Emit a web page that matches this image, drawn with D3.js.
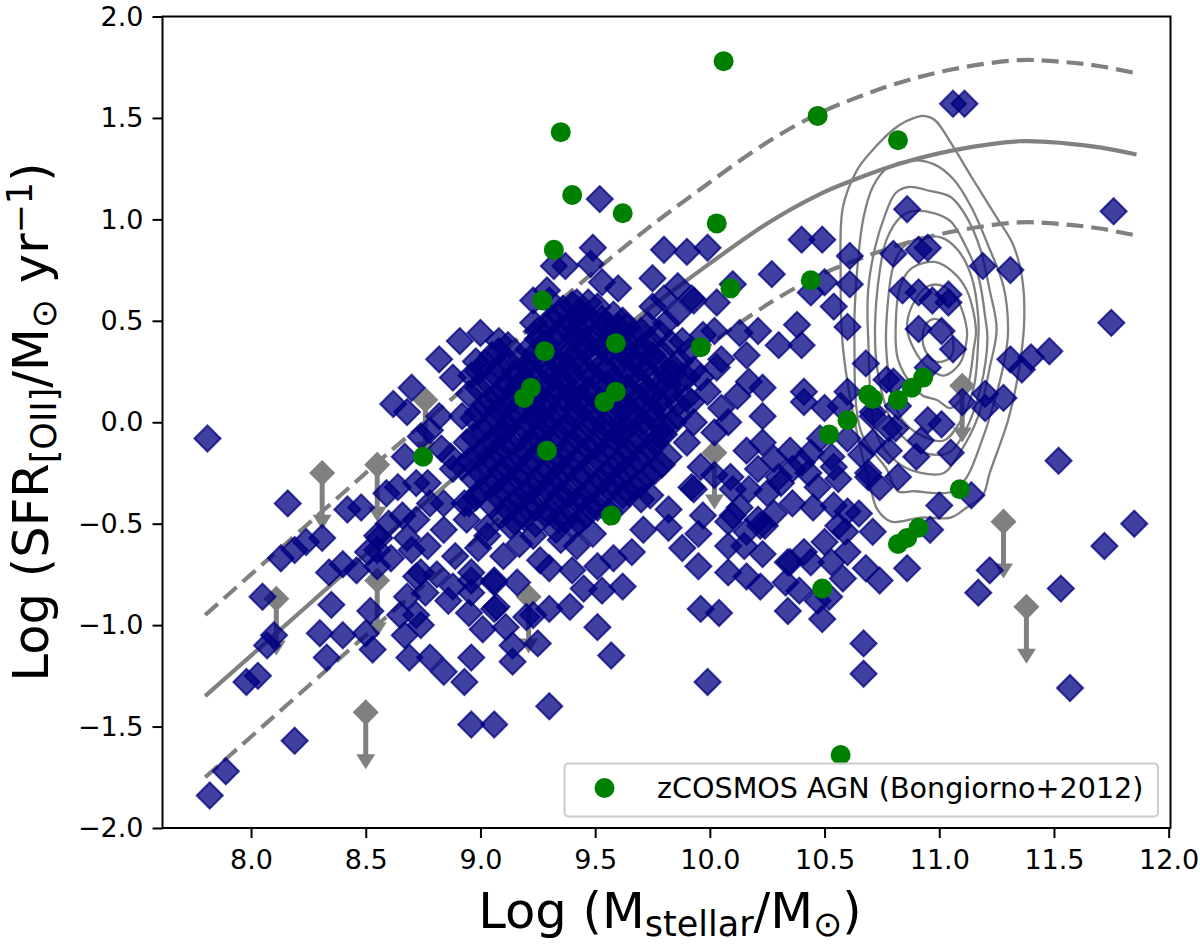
<!DOCTYPE html>
<html>
<head>
<meta charset="utf-8">
<script src="https://cdn.jsdelivr.net/npm/d3@7"></script>
<style>
  html, body { margin: 0; padding: 0; background: white; }
  svg { display: block; }
  text { font-family: "DejaVu Sans", sans-serif; fill: black; }
</style>
</head>
<body>
<div id="chart"></div>
<script>
let width = 1200
let height = 945
let margin = { top: 16.5, left: 162.5, right: 29.5, bottom: 117 }

let xTicks = [8.0, 8.5, 9.0, 9.5, 10.0, 10.5, 11.0, 11.5, 12.0]
let yTicks = [-2.0, -1.5, -1.0, -0.5, 0.0, 0.5, 1.0, 1.5, 2.0]

// main sequence line and its two dashed offsets
let lineMass = [7.8, 8.0, 8.15, 8.3, 8.45, 8.6, 8.9, 9.15, 9.4, 9.7, 9.9, 10.25, 10.48, 10.64, 10.83, 11.06, 11.35, 11.55, 11.7, 11.86]
let lineMid = [-1.35, -1.15, -1.0, -0.85, -0.70, -0.55, -0.26, 0.0, 0.25, 0.53, 0.70, 0.98, 1.125, 1.2, 1.275, 1.34, 1.385, 1.375, 1.355, 1.32]
let lineUpper = [-0.95, -0.75, -0.60, -0.45, -0.30, -0.15, 0.14, 0.40, 0.65, 0.93, 1.10, 1.38, 1.525, 1.60, 1.675, 1.74, 1.785, 1.775, 1.755, 1.72]
let lineLower = [-1.75, -1.55, -1.40, -1.25, -1.10, -0.95, -0.66, -0.40, -0.15, 0.13, 0.30, 0.58, 0.725, 0.80, 0.875, 0.94, 0.985, 0.975, 0.955, 0.92]

// density contours, outer to inner
let contours = [
  [[10.93,1.51],[10.98,1.49],[11.06,1.36],[11.14,1.21],[11.25,1.01],[11.32,0.88],[11.36,0.72],[11.37,0.49],[11.34,0.21],[11.30,0.01],[11.22,-0.25],[11.19,-0.36],[11.12,-0.42],[11.05,-0.47],[10.92,-0.47],[10.79,-0.49],[10.73,-0.43],[10.70,-0.32],[10.63,0.01],[10.58,0.37],[10.57,0.74],[10.58,1.06],[10.64,1.24],[10.70,1.33],[10.82,1.46],[10.89,1.50]],
  [[10.88,1.29],[10.98,1.27],[11.06,1.20],[11.14,1.06],[11.21,0.88],[11.28,0.67],[11.30,0.46],[11.29,0.34],[11.24,0.10],[11.17,-0.14],[11.12,-0.27],[11.06,-0.34],[10.99,-0.35],[10.89,-0.34],[10.82,-0.34],[10.77,-0.23],[10.66,-0.05],[10.63,0.42],[10.64,0.72],[10.67,1.01],[10.71,1.16],[10.77,1.25]],
  [[10.87,1.16],[10.96,1.14],[11.05,1.11],[11.12,1.01],[11.18,0.85],[11.22,0.65],[11.25,0.46],[11.22,0.27],[11.17,0.03],[11.09,-0.15],[11.02,-0.25],[10.92,-0.25],[10.82,-0.20],[10.73,-0.07],[10.69,0.42],[10.69,0.65],[10.72,0.86],[10.76,1.01],[10.81,1.13]],
  [[10.88,1.04],[10.98,1.03],[11.05,0.99],[11.11,0.88],[11.17,0.72],[11.20,0.52],[11.21,0.41],[11.18,0.17],[11.11,-0.05],[11.04,-0.15],[10.93,-0.15],[10.84,-0.07],[10.79,0.01],[10.73,0.26],[10.72,0.47],[10.74,0.74],[10.77,0.90],[10.83,1.01]],
  [[10.92,0.91],[11.01,0.91],[11.08,0.85],[11.14,0.72],[11.17,0.52],[11.17,0.41],[11.15,0.17],[11.09,0.00],[11.02,-0.09],[10.93,-0.07],[10.84,0.01],[10.80,0.11],[10.77,0.34],[10.77,0.50],[10.80,0.77],[10.84,0.86]],
  [[10.98,0.79],[11.06,0.74],[11.12,0.65],[11.16,0.46],[11.15,0.36],[11.12,0.17],[11.05,0.07],[10.99,0.11],[10.93,0.13],[10.89,0.17],[10.82,0.31],[10.81,0.47],[10.83,0.67],[10.88,0.76]],
  [[10.95,0.67],[11.02,0.67],[11.08,0.60],[11.12,0.46],[11.12,0.41],[11.09,0.29],[11.02,0.23],[10.95,0.27],[10.89,0.36],[10.86,0.46],[10.88,0.57]],
  [[10.98,0.51],[11.04,0.47],[11.06,0.41],[11.05,0.32],[10.98,0.30],[10.93,0.38],[10.94,0.48]]
]

// upper limits, drawn as grey diamonds with a down arrow
let limits = [[8.31,-0.25],[8.55,-0.21],[8.76,0.11],[8.11,-0.87],[8.55,-0.78],[8.50,-1.43],[9.21,-0.86],[10.02,-0.15],[11.10,0.18],[11.28,-0.49],[11.38,-0.91]]
let limitDrop = 0.28

let lowMass = [
  [7.81,-0.08],[8.16,-0.40],[8.13,-0.67],[8.19,-0.63],[8.24,-0.59],[8.31,-0.57],[8.42,-0.43],[8.48,-0.42],[8.34,-0.74],[8.40,-0.70],
  [8.46,-0.73],[8.55,-0.63],[8.51,-0.64],[8.61,-0.67],[8.66,-0.46],[8.59,-0.35],[8.64,-0.32],[8.67,-0.17],[8.74,-0.07],[8.78,-0.04],
  [8.82,0.03],[8.62,0.09],[8.68,0.05],[8.70,0.17],[8.82,0.31],[8.91,0.40],[8.98,0.30],[8.88,0.22],[8.92,0.03],[8.87,-0.17],
  [8.88,-0.23],[8.78,-0.40],[8.77,-0.30],[8.72,-0.48],[8.55,-0.56],[8.77,-0.61],[8.84,-0.53],[8.94,-0.48],[8.74,-0.74],[8.81,-0.75],
  [8.96,-0.74],[8.05,-0.86],[8.10,-1.05],[8.07,-1.10],[7.98,-1.28],[8.03,-1.25],[7.89,-1.72],[7.82,-1.84],[8.19,-1.57],[8.35,-0.90],
  [8.52,-0.93],[8.30,-1.04],[8.40,-1.05],[8.50,-1.04],[8.33,-1.16],[8.53,-1.12],[8.65,-0.95],[8.72,-0.76],[8.68,-0.86],[8.72,-0.95],
  [8.74,-1.00],[8.67,-1.05],[8.69,-1.16],[8.78,-1.16],[8.84,-1.23],[8.93,-1.28],[8.96,-1.16],[8.96,-1.49],[9.06,-1.49],[8.68,-0.57],
  [8.56,-0.57],[8.55,-0.71],[8.76,-0.84],[8.86,-0.88],[8.95,-0.94],[8.88,-0.81],[8.96,-0.78],[8.96,-0.84],[9.06,-0.78],[9.01,-1.02],
  [9.06,-0.92],[9.07,-0.91],[9.11,-1.01],[9.14,-1.10],[9.14,-1.18],[9.25,-1.09],[9.20,-0.96],[9.23,-0.95],[9.30,-0.92],[9.39,-0.91],
  [9.30,-1.40],[9.51,-1.01],[9.57,-1.15],[9.16,-0.79],[9.06,-0.79],[9.45,-0.82],[9.53,-0.83],[9.62,-0.81],[9.51,-0.71],[9.58,-0.67],
  [9.66,-0.64],[9.42,-0.61],[9.49,-0.55],[9.71,-0.53],[9.23,-0.56],[9.35,-0.58],[9.40,-0.73],[9.26,-0.68],[8.99,-0.62],[9.10,-0.66],
  [9.03,-0.56],[9.17,-0.60],[9.30,-0.72],[8.89,-0.66],[8.60,-0.50],[8.72,-0.30],[8.83,-0.13],[8.93,-0.40],[8.84,-0.40],[8.70,-0.63]
]

let core = [
  [9.36,0.56],[9.44,0.54],[9.51,0.57],[9.58,0.53],[9.31,0.51],[9.39,0.49],[9.47,0.52],[9.55,0.48],[9.62,0.50],
  [9.34,0.44],[9.42,0.46],[9.50,0.43],[9.57,0.45],[9.66,0.42],[9.78,0.44],[9.88,0.40],
  [9.12,0.38],[9.28,0.39],[9.37,0.36],[9.45,0.40],[9.53,0.37],[9.61,0.39],[9.70,0.36],[9.83,0.39],[9.91,0.35],
  [9.05,0.33],[9.18,0.31],[9.24,0.34],[9.33,0.30],[9.41,0.33],[9.49,0.31],[9.58,0.34],[9.67,0.30],[9.75,0.33],[9.87,0.30],
  [8.99,0.25],[9.09,0.27],[9.15,0.24],[9.22,0.28],[9.30,0.25],[9.38,0.27],[9.46,0.24],[9.55,0.26],[9.63,0.25],[9.72,0.27],[9.81,0.24],[9.93,0.26],
  [9.03,0.20],[9.12,0.18],[9.19,0.21],[9.27,0.19],[9.35,0.21],[9.43,0.18],[9.52,0.20],[9.60,0.19],[9.69,0.21],[9.78,0.18],[9.87,0.20],
  [8.95,0.14],[9.07,0.13],[9.15,0.15],[9.24,0.12],[9.32,0.14],[9.40,0.13],[9.48,0.15],[9.57,0.12],[9.65,0.14],[9.74,0.13],[9.83,0.15],[9.90,0.12],
  [9.02,0.08],[9.10,0.07],[9.18,0.09],[9.28,0.06],[9.36,0.08],[9.45,0.07],[9.53,0.09],[9.62,0.06],[9.70,0.08],[9.79,0.07],
  [8.97,0.02],[9.06,0.03],[9.14,0.01],[9.23,0.03],[9.31,0.01],[9.41,0.02],[9.49,0.00],[9.58,0.03],[9.66,0.01],[9.75,0.02],[9.84,0.00],
  [9.01,-0.04],[9.10,-0.05],[9.19,-0.03],[9.27,-0.05],[9.36,-0.03],[9.44,-0.06],[9.54,-0.04],[9.62,-0.05],[9.71,-0.03],[9.80,-0.06],
  [8.94,-0.10],[9.05,-0.09],[9.13,-0.11],[9.22,-0.09],[9.32,-0.11],[9.40,-0.10],[9.50,-0.12],[9.59,-0.09],[9.67,-0.11],[9.76,-0.10],
  [8.99,-0.16],[9.08,-0.15],[9.17,-0.17],[9.26,-0.15],[9.35,-0.18],[9.45,-0.16],[9.54,-0.15],[9.63,-0.17],[9.72,-0.15],[9.82,-0.17],
  [8.92,-0.22],[9.03,-0.21],[9.12,-0.23],[9.21,-0.21],[9.30,-0.24],[9.39,-0.22],[9.48,-0.21],[9.57,-0.23],[9.66,-0.22],[9.76,-0.24],
  [8.97,-0.28],[9.07,-0.29],[9.16,-0.27],[9.25,-0.30],[9.34,-0.28],[9.43,-0.27],[9.53,-0.29],[9.61,-0.28],[9.70,-0.30],
  [9.00,-0.34],[9.10,-0.33],[9.20,-0.35],[9.29,-0.33],[9.38,-0.36],[9.47,-0.34],[9.56,-0.33],[9.65,-0.35],[9.74,-0.36],
  [8.95,-0.40],[9.05,-0.41],[9.15,-0.39],[9.24,-0.42],[9.33,-0.40],[9.42,-0.39],[9.51,-0.42],[9.60,-0.41],
  [9.09,-0.46],[9.19,-0.47],[9.28,-0.45],[9.37,-0.48],[9.46,-0.46],[9.03,-0.52],[9.13,-0.51],[9.33,-0.53],[9.41,-0.51],
  [9.49,0.86],[9.32,0.77],[9.37,0.77],[9.48,0.78],[9.53,0.69],[9.60,0.66],[9.29,0.65],[9.23,0.60],[9.30,0.60],[9.23,0.49],
  [9.25,0.45],[9.42,0.59],[9.80,0.85],[9.90,0.84],[9.99,0.86],[9.52,1.10],[9.75,0.71],[9.86,0.67],[9.92,0.61],[9.75,0.57],
  [9.86,0.54],[9.73,0.48],[9.81,0.49],[9.64,0.47],[9.80,0.61],[9.00,0.44],[9.08,0.40]
]

// second, overlapping layer: the centre of the cloud reads as solid navy
let coreDense = [
  [9.40,0.58],[9.47,0.59],[9.34,0.53],[9.42,0.52],[9.53,0.51],[9.29,0.47],[9.38,0.46],[9.46,0.48],[9.54,0.46],[9.60,0.47],[9.70,0.45],
  [9.25,0.41],[9.33,0.40],[9.41,0.42],[9.49,0.39],[9.57,0.41],[9.65,0.38],[9.74,0.40],
  [9.08,0.35],[9.21,0.36],[9.30,0.34],[9.38,0.33],[9.46,0.36],[9.55,0.35],[9.63,0.33],[9.72,0.36],[9.79,0.34],
  [9.02,0.29],[9.12,0.30],[9.20,0.28],[9.27,0.30],[9.35,0.28],[9.44,0.29],[9.52,0.27],[9.61,0.30],[9.69,0.28],[9.78,0.29],[9.84,0.27],
  [8.96,0.23],[9.06,0.24],[9.16,0.22],[9.24,0.23],[9.32,0.22],[9.40,0.24],[9.49,0.23],[9.58,0.21],[9.66,0.23],[9.75,0.22],[9.84,0.24],[9.90,0.22],
  [8.99,0.17],[9.09,0.16],[9.17,0.18],[9.23,0.16],[9.31,0.18],[9.39,0.17],[9.47,0.16],[9.56,0.18],[9.64,0.17],[9.73,0.16],[9.82,0.18],
  [9.04,0.11],[9.13,0.10],[9.21,0.12],[9.29,0.10],[9.37,0.11],[9.44,0.12],[9.52,0.10],[9.61,0.11],[9.69,0.12],[9.78,0.10],[9.86,0.09],
  [8.99,0.05],[9.08,0.06],[9.16,0.04],[9.25,0.05],[9.33,0.04],[9.41,0.06],[9.49,0.05],[9.58,0.07],[9.66,0.05],[9.75,0.06],
  [9.04,-0.01],[9.12,-0.02],[9.21,0.00],[9.29,-0.01],[9.38,-0.02],[9.46,0.00],[9.54,-0.01],[9.62,-0.01],[9.71,0.00],[9.80,-0.02],
  [8.97,-0.07],[9.08,-0.06],[9.17,-0.08],[9.25,-0.07],[9.34,-0.06],[9.42,-0.08],[9.52,-0.07],[9.60,-0.06],[9.69,-0.08],[9.78,-0.07],
  [9.02,-0.13],[9.10,-0.12],[9.19,-0.14],[9.28,-0.12],[9.37,-0.14],[9.47,-0.13],[9.56,-0.12],[9.64,-0.14],[9.74,-0.13],
  [8.95,-0.19],[9.05,-0.18],[9.14,-0.20],[9.23,-0.18],[9.33,-0.20],[9.42,-0.19],[9.51,-0.18],[9.60,-0.20],[9.69,-0.19],[9.79,-0.21],
  [9.00,-0.25],[9.09,-0.24],[9.18,-0.26],[9.27,-0.25],[9.36,-0.24],[9.45,-0.26],[9.55,-0.25],[9.63,-0.24],[9.73,-0.26],
  [9.04,-0.31],[9.13,-0.30],[9.22,-0.32],[9.31,-0.30],[9.40,-0.32],[9.50,-0.31],[9.58,-0.30],[9.67,-0.32],
  [8.98,-0.37],[9.07,-0.36],[9.17,-0.38],[9.26,-0.37],[9.35,-0.36],[9.44,-0.38],[9.53,-0.37],[9.62,-0.36],[9.70,-0.38],
  [9.12,-0.43],[9.21,-0.42],[9.30,-0.44],[9.39,-0.43],[9.48,-0.42],[9.56,-0.44],[9.15,-0.49],[9.24,-0.50],[9.34,-0.48],[9.43,-0.49]
]

let midMass = [
  [9.82,-0.43],[9.82,-0.52],[9.88,-0.62],[9.95,-0.71],[9.95,-0.55],[9.97,-0.46],[10.08,-0.74],[10.16,-0.76],[10.22,-0.81],[10.08,-0.61],
  [10.15,-0.61],[10.23,-0.65],[10.22,-0.51],[10.16,-0.54],[10.10,-0.46],[10.08,-0.49],[9.96,-0.92],[10.04,-0.94],[9.99,-1.28],[10.34,-0.93],
  [10.33,-0.79],[10.34,-0.69],[10.09,-0.27],[9.92,-0.32],[10.24,-0.51],[10.21,-0.48],[10.13,-0.42],[9.96,-0.22],[9.93,-0.33],[10.21,-0.23],
  [10.17,-0.33],[10.25,-0.35],[10.31,-0.30],[10.36,-0.40],[10.45,-0.42],[10.54,-0.41],[10.60,-0.44],[10.47,-0.32],[10.56,-0.28],[10.54,-0.22],
  [10.43,-0.25],[10.35,-0.14],[10.44,-0.15],[10.28,-0.18],[10.23,-0.10],[10.36,-0.23],[10.53,-0.17],[10.66,-0.16],[10.74,-0.32],[10.69,-0.25],
  [10.71,-0.54],[10.56,-0.51],[10.59,-0.54],[10.50,-0.59],[10.60,-0.64],[10.68,-0.72],[10.74,-0.78],[10.58,-0.77],[10.41,-0.64],[10.35,-0.69],
  [10.44,-0.69],[10.53,-0.69],[10.39,-0.83],[10.49,-0.97],[10.47,-0.88],[10.52,-0.86],[10.67,-1.09],[10.67,-1.24],[10.40,0.90],[10.49,0.90],
  [10.61,0.82],[10.27,0.73],[10.61,0.68],[10.10,0.68],[10.50,0.69],[10.44,0.64],[10.54,0.57],[10.60,0.47],[10.03,0.59],[9.93,0.60],
  [10.38,0.48],[10.40,0.38],[10.30,0.38],[10.21,0.45],[10.13,0.44],[10.16,0.33],[10.02,0.45],[9.97,0.43],[10.05,0.31],[10.68,0.29],
  [10.60,0.15],[10.77,0.21],[10.50,0.07],[10.41,0.15],[10.41,0.10],[10.23,0.03],[10.17,0.20],[10.23,0.17],[10.12,0.13],[10.08,0.00],
  [9.96,0.22],[10.03,0.27],[9.99,0.15],[10.57,0.08],[10.71,0.05],[10.16,-0.14],[10.02,-0.05],[9.93,0.00],[9.86,0.03],[10.02,-0.26],
  [10.40,-0.20],[10.48,-0.08],[10.60,-0.08],[10.30,-0.27],[10.10,-0.33],[10.28,-0.45],[10.65,-0.45],[9.90,-0.10],[9.92,0.10],[10.05,0.07]
]

let highMass = [
  [11.06,1.57],[11.11,1.57],[10.86,1.05],[10.80,0.83],[10.91,0.85],[10.95,0.86],[11.19,0.77],[11.31,0.75],[10.84,0.65],[10.91,0.64],
  [10.97,0.60],[11.04,0.63],[11.04,0.59],[10.91,0.46],[11.01,0.45],[11.06,0.36],[10.95,0.27],[10.80,0.20],[10.71,0.03],[10.78,-0.03],
  [10.81,-0.03],[10.78,-0.14],[10.71,-0.10],[10.82,0.08],[10.95,0.01],[11.01,-0.01],[11.10,0.10],[11.20,0.14],[11.28,0.12],[11.20,0.07],
  [11.31,0.31],[11.36,0.26],[11.40,0.32],[11.48,0.35],[10.92,-0.09],[10.90,-0.17],[11.05,-0.15],[10.69,-0.27],[10.82,-0.27],[11.00,-0.41],
  [11.14,-0.36],[10.96,-0.53],[10.86,-0.72],[11.22,-0.73],[11.17,-0.84],[11.76,1.04],[11.75,0.49],[11.52,-0.19],[11.85,-0.50],[11.72,-0.61],
  [11.53,-0.82],[11.57,-1.31]
]

let agnMass = [10.06, 9.35, 10.47, 10.82, 9.40, 9.62, 10.03, 9.32, 10.44, 10.09, 9.27, 9.59, 9.28, 9.96, 9.22, 9.19, 9.59, 9.54, 9.29, 8.75, 9.57, 10.69, 10.71, 10.82, 10.88, 10.93, 10.60, 10.52, 11.09, 10.91, 10.86, 10.82, 10.49, 10.57]
let agnSfr = [1.78, 1.43, 1.51, 1.39, 1.12, 1.03, 0.98, 0.85, 0.70, 0.66, 0.60, 0.39, 0.35, 0.37, 0.17, 0.12, 0.15, 0.10, -0.14, -0.17, -0.46, 0.135, 0.115, 0.11, 0.17, 0.22, 0.01, -0.06, -0.33, -0.52, -0.57, -0.60, -0.82, -1.64]

let legendLabel = 'zCOSMOS AGN (Bongiorno+2012)'

let svg = d3
  .select('#chart')
  .append('svg')
  .attr('width', width)
  .attr('height', height)

let xPositionScale = d3
  .scaleLinear()
  .domain([7.614, 12.008])
  .range([margin.left, width - margin.right])

let yPositionScale = d3
  .scaleLinear()
  .domain([-2, 2])
  .range([height - margin.bottom, margin.top])

let line = d3
  .line()
  .x(d => xPositionScale(d[0]))
  .y(d => yPositionScale(d[1]))
  .curve(d3.curveCatmullRom.alpha(0.5))

// grey main sequence lines
let lineSets = [[lineUpper, '17 8'], [lineMid, null], [lineLower, '17 8']]
lineSets.forEach(function(s) {
  svg
    .append('path')
    .datum(lineMass.map((m, i) => [m, s[0][i]]))
    .attr('d', line)
    .attr('fill', 'none')
    .attr('stroke', 'gray')
    .attr('stroke-width', 4.2)
    .attr('stroke-dasharray', s[1])
})

// contours
let closedLine = d3
  .line()
  .x(d => xPositionScale(d[0]))
  .y(d => yPositionScale(d[1]))
  .curve(d3.curveCatmullRomClosed.alpha(0.5))

svg
  .selectAll('.contour')
  .data(contours)
  .enter()
  .append('path')
  .attr('class', 'contour')
  .attr('d', closedLine)
  .attr('fill', 'none')
  .attr('stroke', 'gray')
  .attr('stroke-width', 2.3)

// limits
let diamond = d3.symbol().type(d3.symbolSquare).size(340)

svg
  .selectAll('.limit-shaft')
  .data(limits)
  .enter()
  .append('line')
  .attr('class', 'limit-shaft')
  .attr('x1', d => xPositionScale(d[0]))
  .attr('x2', d => xPositionScale(d[0]))
  .attr('y1', d => yPositionScale(d[1]))
  .attr('y2', d => yPositionScale(d[1] - limitDrop) - 14)
  .attr('stroke', 'gray')
  .attr('stroke-width', 5)

svg
  .selectAll('.limit-head')
  .data(limits)
  .enter()
  .append('path')
  .attr('class', 'limit-head')
  .attr('d', function(d) {
    let x = xPositionScale(d[0])
    let y = yPositionScale(d[1] - limitDrop)
    return 'M' + (x - 9.5) + ',' + (y - 15) + 'L' + (x + 9.5) + ',' + (y - 15) + 'L' + x + ',' + y + 'Z'
  })
  .attr('fill', 'gray')

svg
  .selectAll('.limit')
  .data(limits)
  .enter()
  .append('path')
  .attr('class', 'limit')
  .attr('d', diamond)
  .attr('transform', d => 'translate(' + xPositionScale(d[0]) + ',' + yPositionScale(d[1]) + ') rotate(45)')
  .attr('fill', 'gray')

// blue galaxies
let galaxies = lowMass.concat(core, coreDense, midMass, highMass)

svg
  .selectAll('.galaxy')
  .data(galaxies)
  .enter()
  .append('path')
  .attr('class', 'galaxy')
  .attr('d', diamond)
  .attr('transform', d => 'translate(' + xPositionScale(d[0]) + ',' + yPositionScale(d[1]) + ') rotate(45)')
  .attr('fill', 'navy')
  .attr('fill-opacity', 0.75)
  .attr('stroke', 'navy')
  .attr('stroke-opacity', 0.75)
  .attr('stroke-width', 2)

// green AGN
svg
  .selectAll('.agn')
  .data(agnMass)
  .enter()
  .append('circle')
  .attr('class', 'agn')
  .attr('cx', d => xPositionScale(d))
  .attr('cy', (d, i) => yPositionScale(agnSfr[i]))
  .attr('r', 10)
  .attr('fill', 'green')

// legend
let legend = svg.append('g').attr('transform', 'translate(564.5,763.5)')

legend
  .append('rect')
  .attr('width', 593.5)
  .attr('height', 53)
  .attr('rx', 4)
  .attr('fill', 'white')
  .attr('fill-opacity', 0.8)
  .attr('stroke', '#cccccc')
  .attr('stroke-width', 2)

legend
  .append('circle')
  .attr('cx', 40)
  .attr('cy', 24.5)
  .attr('r', 10)
  .attr('fill', 'green')

legend
  .append('text')
  .attr('x', 92.5)
  .attr('y', 34.5)
  .attr('font-size', 28.6)
  .text(legendLabel)

// axes
let tickFormat = d => d3.format('.1f')(d).replace('-', '\u2212')

let xAxis = d3.axisBottom(xPositionScale).tickValues(xTicks).tickFormat(tickFormat).tickSize(10).tickPadding(12).tickSizeOuter(0)
let yAxis = d3.axisLeft(yPositionScale).tickValues(yTicks).tickFormat(tickFormat).tickSize(10).tickPadding(9).tickSizeOuter(0)

svg
  .append('g')
  .attr('class', 'axis')
  .attr('transform', 'translate(0,' + (height - margin.bottom) + ')')
  .call(xAxis)

svg
  .append('g')
  .attr('class', 'axis')
  .attr('transform', 'translate(' + margin.left + ',0)')
  .call(yAxis)

svg.selectAll('.axis text').attr('font-size', 27).attr('font-family', '"DejaVu Sans", sans-serif')
svg.selectAll('.axis line').attr('stroke', 'black').attr('stroke-width', 2)
svg.selectAll('.axis .domain').remove()

svg
  .append('rect')
  .attr('x', margin.left)
  .attr('y', margin.top)
  .attr('width', width - margin.left - margin.right)
  .attr('height', height - margin.top - margin.bottom)
  .attr('fill', 'none')
  .attr('stroke', 'black')
  .attr('stroke-width', 2)

// axis labels, sub and superscripts as tspans
function addParts(el, parts) {
  parts.forEach(function(p) {
    el.append('tspan')
      .attr('font-size', p.size)
      .attr('dy', p.dy || 0)
      .text(p.text)
  })
}

let labelSize = 49.6
let smallSize = 35

let xLabel = svg
  .append('text')
  .attr('x', 670)
  .attr('y', 928)
  .attr('text-anchor', 'middle')

addParts(xLabel, [
  { text: 'Log (M', size: labelSize },
  { text: 'stellar', size: smallSize, dy: 8 },
  { text: '/M', size: labelSize, dy: -8 },
  { text: '\u2299', size: smallSize, dy: 8 },
  { text: ')', size: labelSize, dy: -8 }
])

let yLabel = svg
  .append('text')
  .attr('transform', 'translate(48,422) rotate(-90)')
  .attr('text-anchor', 'middle')

addParts(yLabel, [
  { text: 'Log (SFR', size: labelSize },
  { text: '[OII]', size: smallSize, dy: 8 },
  { text: '/M', size: labelSize, dy: -8 },
  { text: '\u2299', size: smallSize, dy: 8 },
  { text: ' yr', size: labelSize, dy: -8 },
  { text: '\u22121', size: smallSize, dy: -16 },
  { text: ')', size: labelSize, dy: 16 }
])
</script>
</body>
</html>
